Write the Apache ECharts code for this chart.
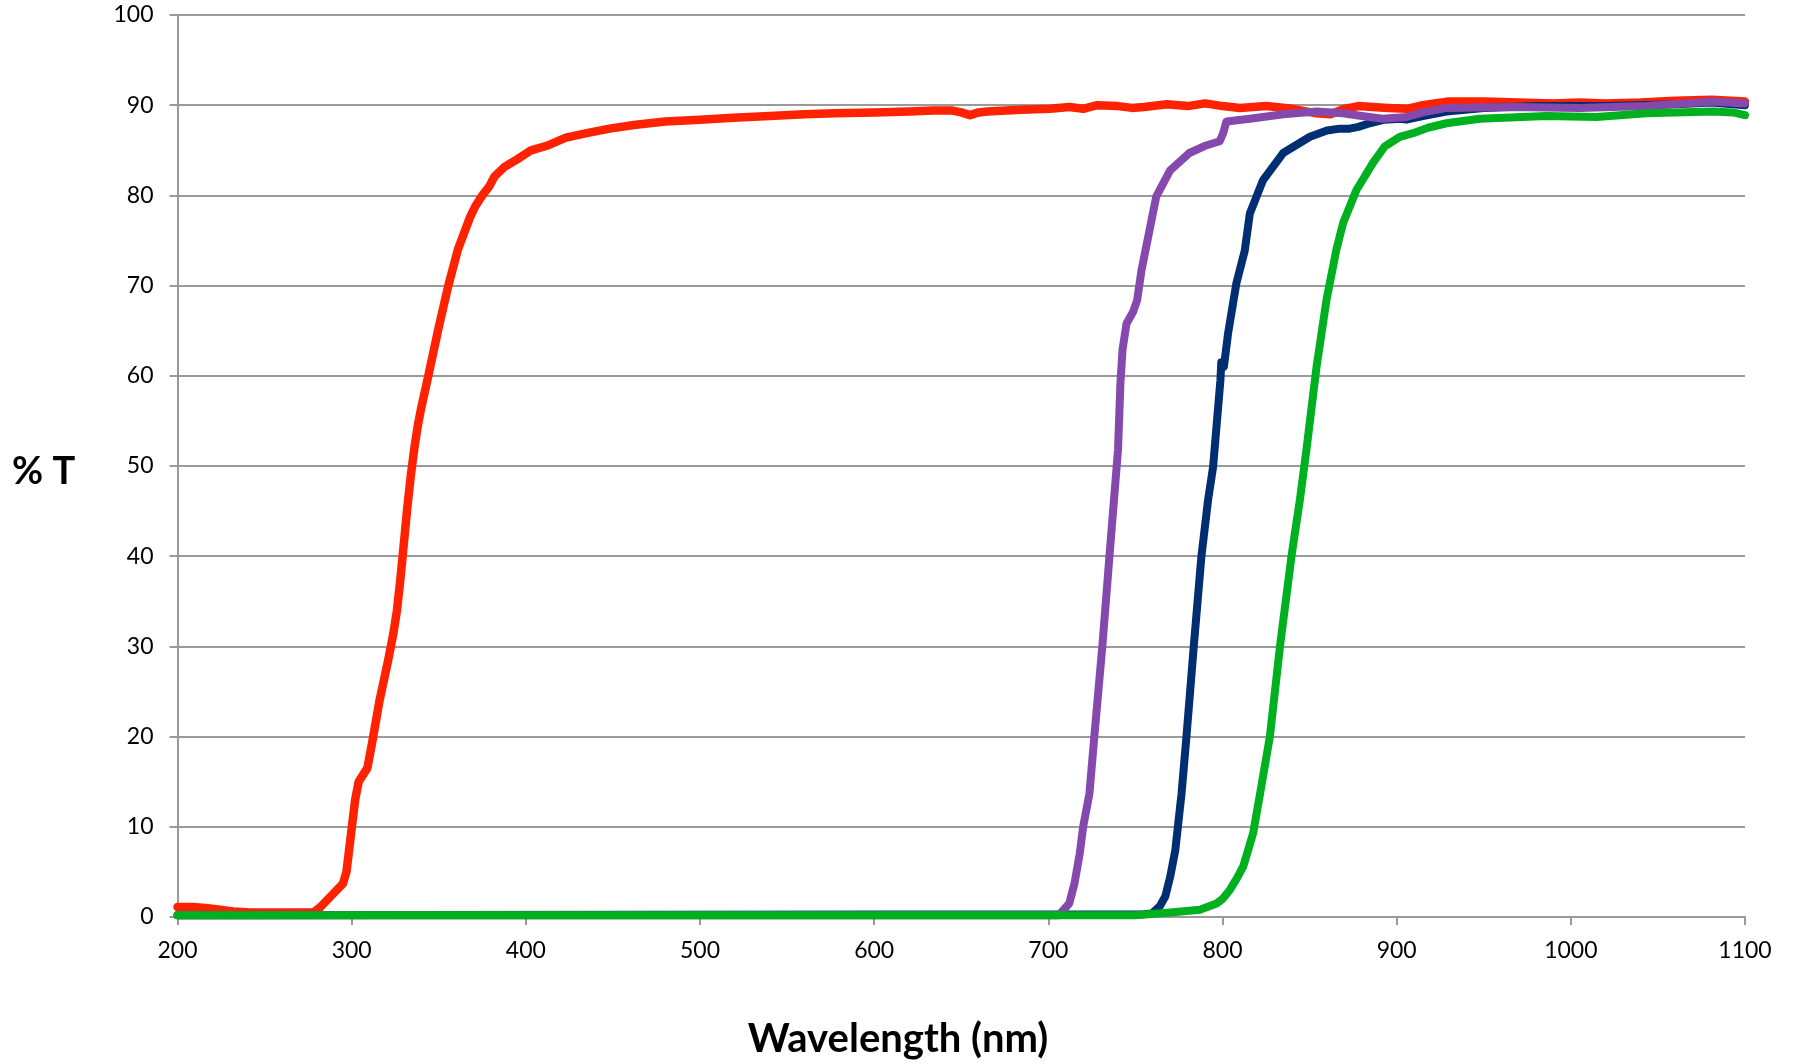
<!DOCTYPE html>
<html>
<head>
<meta charset="utf-8">
<script src="https://cdn.jsdelivr.net/npm/echarts@6/dist/echarts.min.js"></script>
<style>
html,body{margin:0;padding:0;background:#fff;}
#chart{width:1796px;height:1064px;}
</style>
</head>
<body>
<div id="chart"></div>
<script>
// ---- data (wavelength nm, %T) ----
const xTicksMin = 200, xTicksMax = 1100, xTickStep = 100;
const yTicksMin = 0, yTicksMax = 100, yTickStep = 10;
const xTitle = "Wavelength (nm)";
const yTitle = "% T";

const redX = [200,209,216,222,232,242,260,278,282,295,297,299,302,304,309,312,316,321,324,326,328,330,332,334,336,338,340,344,350,355.5,361,368,371,375,379,382,388,395,403,412,423,435,448,462,480,500,519,540,560,577,600,620,634,645,650,655,660,665,684,701,712,720,728,740,748,755,768,780,790,800,810,825,840,854,862,870,878,886,895,906,915,929,950,970,990,1005,1020,1040,1060,1081,1100];
const redY = [1.1,1.1,1.0,0.85,0.6,0.5,0.5,0.5,1.1,3.7,5.0,8.2,13,15,16.5,19.6,24,28.5,31.5,34,37.5,41.5,45.5,49,52,54.5,56.5,60,65.4,70,74,77.6,78.8,80,81,82.1,83.2,84,85.0,85.5,86.4,86.9,87.4,87.8,88.2,88.4,88.6,88.8,89.0,89.1,89.2,89.3,89.4,89.4,89.2,88.9,89.2,89.3,89.5,89.6,89.8,89.6,90.0,89.9,89.7,89.8,90.1,89.9,90.2,89.9,89.7,89.9,89.6,89.1,89.0,89.6,89.9,89.8,89.7,89.6,90.0,90.4,90.4,90.3,90.2,90.3,90.2,90.3,90.5,90.6,90.4];

const purpleX = [200,706,706.6,712,715,718,720,723.6,726.4,731,735.3,738,740,741.4,742.6,744.9,748.7,751,753.5,756.4,762,770,781,790,798.4,800.4,802.3,815.7,835,854,869,880,892,905.6,915,928.6,966.8,1005,1043,1081.6,1100];
const purpleY = [0.2,0.2,0.4,1.5,3.7,7,10,13.7,20,30,40.5,47,51.8,59.2,62.9,65.8,67.1,68.4,71.7,74.5,79.9,82.8,84.7,85.5,86.0,86.9,88.2,88.5,89.0,89.3,89.1,88.8,88.5,88.7,89.2,89.7,89.8,89.7,89.9,90.4,90.2];

const blueX = [200,755,759.5,764,767.2,770,772.9,776.5,779.3,783.5,787.9,791.7,794.6,798.8,799.3,800.8,803.2,808,812.8,815.7,823.3,834.8,850.2,860,867.3,873,878,884.5,893,901.8,905.6,915,928.6,950,980,1020,1060,1081,1100];
const blueY = [0.2,0.3,0.4,1.2,2.3,4.5,7.4,13.7,20,30,40,46.2,49.9,59.5,61.5,61.0,64.7,70.3,73.9,78.0,81.7,84.7,86.5,87.2,87.4,87.4,87.6,88.0,88.4,88.5,88.4,88.8,89.3,89.7,89.9,89.9,90.1,90.3,90.0];

const greenX = [200,750,751,770,787,796.6,800,804.2,808,811.9,817.6,821.6,827.2,833,839.6,844.4,848.2,854,859.7,865.4,869.2,876.9,886.4,893,901.8,909.4,918,928.6,947.7,986,1014.7,1043.4,1081.6,1093,1100];
const greenY = [0.2,0.2,0.4,0.5,0.8,1.5,2.0,3.0,4.2,5.6,9.3,13.7,20,30,40,46.2,51.8,61.0,68.4,74,76.9,80.6,83.6,85.4,86.5,86.9,87.5,88.0,88.5,88.8,88.7,89.1,89.3,89.2,88.9];

const seriesColors = { red: "#ff2200", purple: "#8549ad", blue: "#002e72", green: "#00b01e" };

function pairs(xs, ys) { return xs.map((x, i) => [x, ys[i]]); }

const chart = echarts.init(document.getElementById('chart'), null, {renderer: 'canvas'});
const FONT = 'Lato, "Open Sans", sans-serif';
const gray = '#9a9a9a';

function lineSeries(name, xs, ys, color, w) {
  return {
    name: name, type: 'line', data: pairs(xs, ys),
    showSymbol: false, symbol: 'none', clip: false, smooth: false,
    lineStyle: { color: color, width: w, cap: 'round', join: 'round' },
    emphasis: { disabled: true }, animation: false
  };
}

chart.setOption({
  backgroundColor: '#ffffff',
  animation: false,
  grid: { left: 177.5, right: 51, top: 15, bottom: 147, containLabel: false },
  xAxis: {
    type: 'value', min: xTicksMin, max: xTicksMax, interval: xTickStep,
    axisLine: { show: true, lineStyle: { color: gray, width: 2 } },
    axisTick: { show: true, length: 8, lineStyle: { color: gray, width: 2 } },
    axisLabel: { color: '#000', fontSize: 23, fontFamily: FONT, margin: 22, formatter: v => String(v) },
    splitLine: { show: false }
  },
  yAxis: {
    type: 'value', min: yTicksMin, max: yTicksMax, interval: yTickStep,
    axisLine: { show: true, lineStyle: { color: gray, width: 2 } },
    axisTick: { show: true, length: 8, lineStyle: { color: gray, width: 2 } },
    axisLabel: { color: '#000', fontSize: 23, fontFamily: FONT, margin: 24, formatter: v => String(v) },
    splitLine: { show: true, lineStyle: { color: gray, width: 2 } }
  },
  graphic: [
    { type: 'text', left: 'center', top: 1019, style: { text: xTitle, font: 'bold 40px ' + FONT, fill: '#000' }, x: -62 },
    { type: 'text', left: 12, top: 453, style: { text: yTitle, font: 'bold 38px ' + FONT, fill: '#000' } }
  ],
  series: [
    lineSeries('red', redX, redY, seriesColors.red, 8.5),
    lineSeries('blue', blueX, blueY, seriesColors.blue, 8),
    lineSeries('purple', purpleX, purpleY, seriesColors.purple, 8),
    lineSeries('green', greenX, greenY, seriesColors.green, 8)
  ]
});
</script>
</body>
</html>
